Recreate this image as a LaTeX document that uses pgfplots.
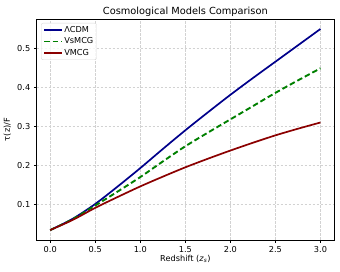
\documentclass[border=0pt]{standalone}
\usepackage{pgfplots}
\pgfplotsset{compat=1.18}
\usepackage{fontspec}
\setmainfont{DejaVu Sans}
\definecolor{mplblue}{HTML}{00008B}
\definecolor{mplgreen}{HTML}{008000}
\definecolor{mplred}{HTML}{8B0000}
\begin{document}
\begin{tikzpicture}
\useasboundingbox (-36.7pt,-32pt) rectangle (303.3pt,240pt);
\begin{axis}[
  scale only axis,
  width=297.3pt, height=221pt,
  xmin=-0.15, xmax=3.15,
  ymin=0.0085, ymax=0.5755,
  xtick={0,0.5,1,1.5,2,2.5,3},
  ytick={0.1,0.2,0.3,0.4,0.5},
  xticklabel style={/pgf/number format/.cd, fixed, fixed zerofill, precision=1},
  yticklabel style={/pgf/number format/.cd, fixed, fixed zerofill, precision=1},
  /pgf/number format/assume math mode=true,
  tick label style={font=\fontsize{8.2}{9.5}\selectfont},
  tick align=outside,
  major tick length=2.9pt,
  xtick pos=lower, ytick pos=left,
  axis line style={line width=0.7pt, black},
  tick style={line width=0.6pt, black},
  grid=major,
  major grid style={dashed, dash pattern=on 2.5pt off 1.5pt, gray!35, line width=0.5pt},
  title={Cosmological Models Comparison},
  every axis title shift=0pt,
  title style={font=\fontsize{9.8}{11}\selectfont, at={(axis description cs:0.5,1)}, anchor=base, yshift=4.5pt},
  xlabel={Redshift (\textit{z}\textsubscript{\textit{s}})},
  ylabel={τ(z)/F},
  label style={font=\fontsize{8.2}{9.5}\selectfont},
  xlabel style={at={(axis description cs:0.5,0)}, anchor=center, yshift=-19pt},
  ylabel style={at={(axis description cs:-0.099,0.5)}, anchor=center},
  legend style={at={(0.0145,0.982)}, anchor=north west, font=\fontsize{8.2}{9.5}\selectfont,
    draw=gray!30, rounded corners=2pt, fill=white, fill opacity=0.8, text opacity=1,
    inner sep=2pt, row sep=1.3pt, nodes={inner sep=1.2pt}},
  legend image code/.code={\draw[#1] (0pt,0pt) -- (18pt,0pt);},
  legend cell align=left,
]
\addplot[mplblue, line width=1.7pt, smooth] coordinates {
(0,0.034) (0.25,0.063) (0.5,0.101) (0.75,0.146) (1.0,0.193) (1.25,0.242) (1.5,0.290)
(1.75,0.336) (2.0,0.381) (2.25,0.424) (2.5,0.466) (2.75,0.508) (3.0,0.550)};
\addlegendentry{ΛCDM}
\addplot[mplgreen, line width=1.9pt, smooth, dash pattern=on 5.5pt off 3pt] coordinates {
(0,0.034) (0.25,0.062) (0.5,0.097) (0.75,0.133) (1.0,0.170) (1.25,0.210) (1.5,0.249)
(1.75,0.284) (2.0,0.318) (2.25,0.352) (2.5,0.386) (2.75,0.418) (3.0,0.449)};
\addlegendentry{VsMCG}
\addplot[mplred, line width=1.7pt, smooth] coordinates {
(0,0.034) (0.25,0.060) (0.5,0.091) (0.75,0.119) (1.0,0.146) (1.25,0.171) (1.5,0.195)
(1.75,0.217) (2.0,0.238) (2.25,0.258) (2.5,0.277) (2.75,0.294) (3.0,0.310)};
\addlegendentry{VMCG}
\end{axis}
\end{tikzpicture}
\end{document}
